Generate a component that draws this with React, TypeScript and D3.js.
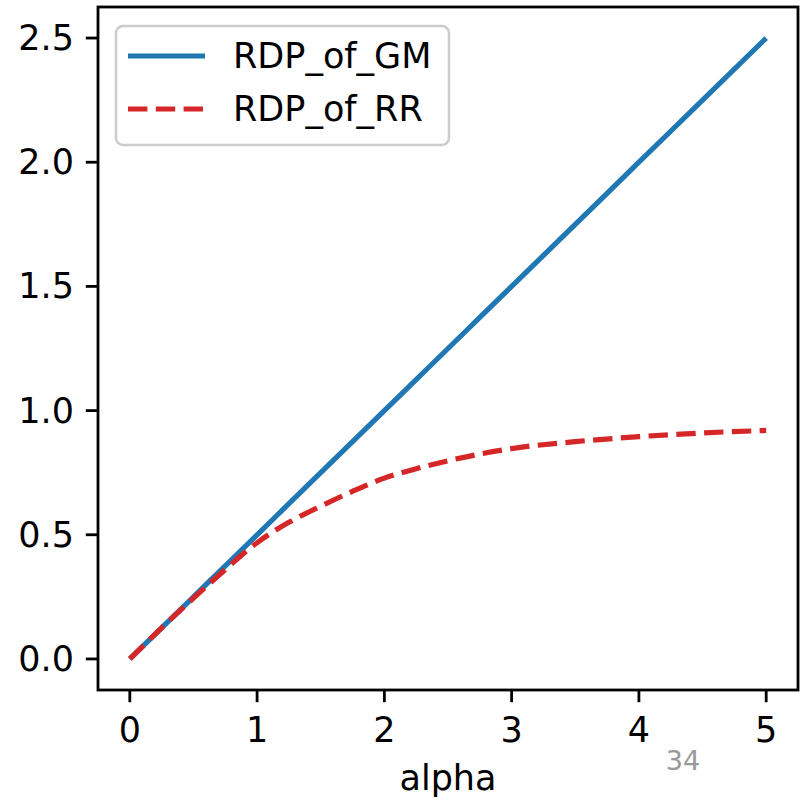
import React from "react";
import * as d3 from "d3";

const alphas = [0, 0.25, 0.5, 0.75, 1, 1.25, 1.5, 1.75, 2, 2.25, 2.5, 2.75, 3, 3.5, 4, 4.5, 5];
const rdpGM = [0, 0.125, 0.25, 0.375, 0.5, 0.625, 0.75, 0.875, 1, 1.125, 1.25, 1.375, 1.5, 1.75, 2, 2.25, 2.5];
const rdpRR = [0, 0.125, 0.245, 0.36, 0.468, 0.55, 0.615, 0.675, 0.728, 0.766, 0.798, 0.825, 0.847, 0.875, 0.895, 0.91, 0.92];
const xTicks = [0, 1, 2, 3, 4, 5];
const yTicks = [0, 0.5, 1, 1.5, 2, 2.5];

const series = [
  { name: "RDP_of_GM", values: rdpGM, color: "#1f77b4", dash: "none" },
  { name: "RDP_of_RR", values: rdpRR, color: "#d62728", dash: "19.4,8.4" },
];

export default function App() {
  const width = 803;
  const height = 798;
  const left = 98;
  const right = 798;
  const top = 7;
  const bottom = 690;
  const font = "DejaVu Sans, sans-serif";

  const x = d3.scaleLinear().domain([-0.25, 5.25]).range([left, right]);
  const y = d3.scaleLinear().domain([-0.125, 2.625]).range([bottom, top]);

  const line = (vals: number[]) =>
    d3.line<number>().x((_, i) => x(alphas[i])).y((d) => y(d)).curve(d3.curveMonotoneX)(vals) as string;

  return (
    <svg width={width} height={height} style={{ position: "absolute", left: 0, top: 0 }} fontFamily={font}>
      <rect width={width} height={height} fill="white" />
      <defs>
        <clipPath id="plot">
          <rect x={left} y={top} width={right - left} height={bottom - top} />
        </clipPath>
      </defs>
      <g clipPath="url(#plot)">
        {series.map((s) => (
          <path key={s.name} d={line(s.values)} fill="none" stroke={s.color} strokeWidth={5.2}
            strokeDasharray={s.dash} />
        ))}
      </g>
      {/* frame */}
      <rect x={left} y={top} width={right - left} height={bottom - top} fill="none" stroke="black" strokeWidth={2.8} />
      {xTicks.map((t) => (
        <g key={t}>
          <line x1={x(t)} x2={x(t)} y1={bottom} y2={bottom + 12.2} stroke="black" strokeWidth={2.8} />
          <text x={x(t)} y={742} fontSize={35} textAnchor="middle">{t}</text>
        </g>
      ))}
      {yTicks.map((t) => (
        <g key={t}>
          <line x1={left - 12.2} x2={left} y1={y(t)} y2={y(t)} stroke="black" strokeWidth={2.8} />
          <text x={74} y={y(t)} fontSize={35} textAnchor="end" dominantBaseline="central">{t.toFixed(1)}</text>
        </g>
      ))}
      <text x={(left + right) / 2} y={790} fontSize={35} textAnchor="middle">alpha</text>
      <text x={683} y={770} fontSize={27} textAnchor="middle" fill="#999">34</text>
      {/* legend */}
      <rect x={116} y={26} width={333} height={119} rx={7} fill="white" fillOpacity={0.8} stroke="#cccccc" strokeWidth={2.5} />
      {series.map((s, i) => (
        <g key={s.name}>
          <line x1={128} x2={205} y1={56 + i * 53} y2={56 + i * 53} stroke={s.color} strokeWidth={5.2} strokeDasharray={s.dash} />
          <text x={233} y={68 + i * 53} fontSize={35}>{s.name}</text>
        </g>
      ))}
    </svg>
  );
}
